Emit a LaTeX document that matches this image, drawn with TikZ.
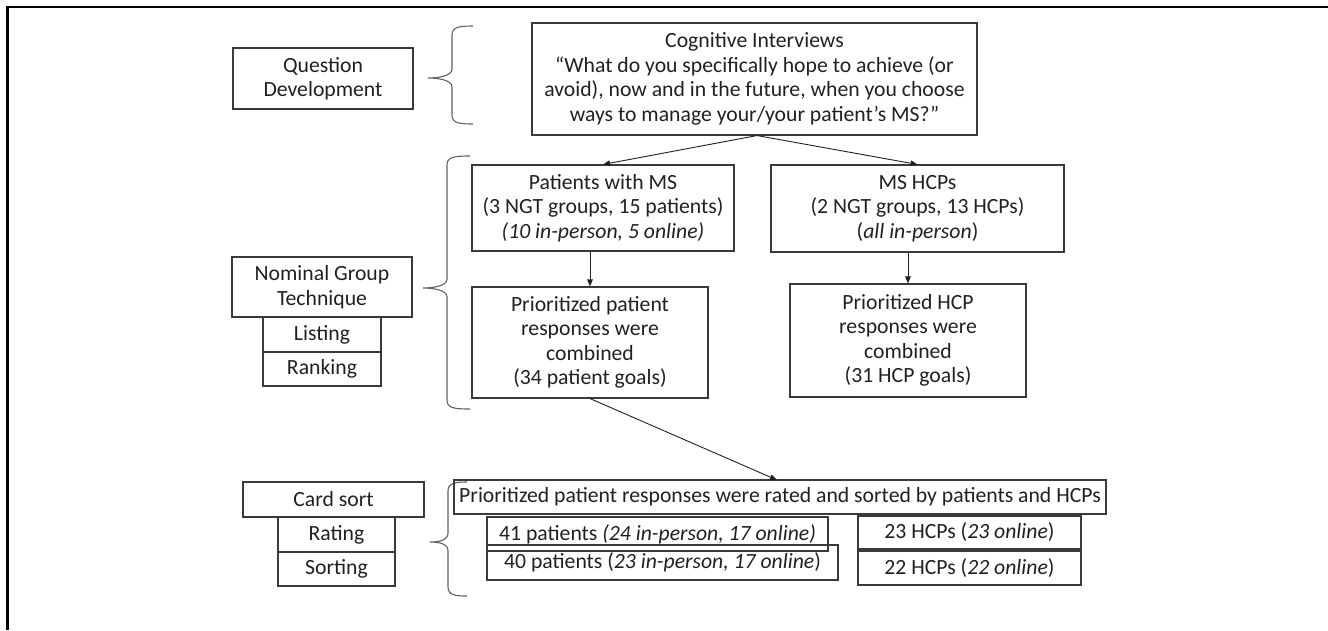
\documentclass[tikz,border=0pt]{standalone}
\usepackage{fontspec}
\setmainfont{Carlito}
\usetikzlibrary{arrows.meta}
\definecolor{ink}{HTML}{231F20}
\definecolor{edge}{HTML}{3A3A3A}
\tikzset{
  box/.style={draw=edge, line width=1.1pt, rectangle, inner sep=0pt, align=center,
    text=ink, font=\fontsize{21.7}{24.5}\selectfont},
  conn/.style={draw=ink, line width=0.9pt, -{Triangle[length=7pt,width=5.5pt]}},
  bracestyle/.style={draw=edge!80, line width=1.1pt},
  frame/.style={draw=black, line width=2.6pt}
}
\newcommand\brc[6]{%
  \draw[bracestyle] (#3,#4) .. controls (#2+7,#4) and (#2,#4+1) .. (#2,#4+9)
    -- (#2,#5-9) .. controls (#2,#5-2) and (#1+10,#5) .. (#1,#5)
    .. controls (#1+10,#5) and (#2,#5+2) .. (#2,#5+9)
    -- (#2,#6-9) .. controls (#2,#6-1) and (#2+7,#6) .. (#3,#6);}
\begin{document}
\begin{tikzpicture}[x=1pt,y=-1pt]
\useasboundingbox (0,0) rectangle (1328,630);
% frame (top and left only)
\draw[frame] (7.5,630) -- (7.5,7) -- (1328,7);

% left column
\node[box, minimum width=180pt, minimum height=61pt] (qd) at (323,78.5) {Question\\Development};
\node[box, minimum width=180pt, minimum height=60pt] (ngt) at (322,287) {Nominal Group\\Technique};
\node[box, minimum width=118pt, minimum height=35pt] (lis) at (322,334.5) {Listing};
\node[box, minimum width=118pt, minimum height=34pt] (rank) at (322,369) {Ranking};
\node[box, minimum width=181pt, minimum height=35pt] (cs) at (333.5,499.5) {Card sort};
\node[box, minimum width=117pt, minimum height=35pt] (rat) at (336.5,534.5) {Rating};
\node[box, minimum width=117pt, minimum height=34pt] (sort) at (336.5,569) {Sorting};

% braces
\brc{428}{452}{473}{26}{78}{124}
\brc{423}{447}{470}{156}{288}{409}
\brc{430}{448}{467}{482}{542}{596}

% main flow
\node[box, minimum width=445pt, minimum height=112pt] (cog) at (754.5,79)
  {Cognitive Interviews\\
   “What do you specifically hope to achieve (or\\
   avoid), now and in the future, when you choose\\
   ways to manage your/your patient’s MS?”};
\node[box, minimum width=262pt, minimum height=86pt] (pat) at (603,208)
  {Patients with MS\\(3 NGT groups, 15 patients)\\\textit{(10 in-person, 5 online)}};
\node[box, minimum width=293pt, minimum height=87pt] (hcp) at (917.5,208.5)
  {MS HCPs\\(2 NGT groups, 13 HCPs)\\(\textit{all in-person})};
\node[box, minimum width=236pt, minimum height=111pt] (pp) at (590,342.5)
  {Prioritized patient\\responses were\\combined\\(34 patient goals)};
\node[box, minimum width=236pt, minimum height=113pt] (hp) at (908,340.5)
  {Prioritized HCP\\responses were\\combined\\(31 HCP goals)};
\node[box, minimum width=652pt, minimum height=34pt] (big) at (780,497)
  {Prioritized patient responses were rated and sorted by patients and HCPs};
\node[box, minimum width=341pt, minimum height=34pt] (p41) at (657.5,534)
  {41 patients \textit{(24 in-person, 17 online)}};
\node[box, minimum width=351pt, minimum height=35pt] (p40) at (662.5,562.5)
  {40 patients (\textit{23 in-person, 17 online})};
\node[box, minimum width=223pt, minimum height=33pt] (h23) at (969.5,532.5)
  {23 HCPs (\textit{23 online})};
\node[box, minimum width=223pt, minimum height=34pt] (h22) at (969.5,568)
  {22 HCPs (\textit{22 online})};

% connectors
\coordinate (cogout) at ([xshift=2.5pt]cog.south);
\draw[conn] (cogout) -- (pat.north);
\draw[conn] (cogout) -- (hcp.north);
\draw[conn] (pp.north |- pat.south) -- (pp.north);
\draw[conn] (hp.north |- hcp.south) -- (hp.north);
\coordinate (bigin) at (777,480);
\draw[conn] (pp.south) -- (bigin);
\end{tikzpicture}
\end{document}
